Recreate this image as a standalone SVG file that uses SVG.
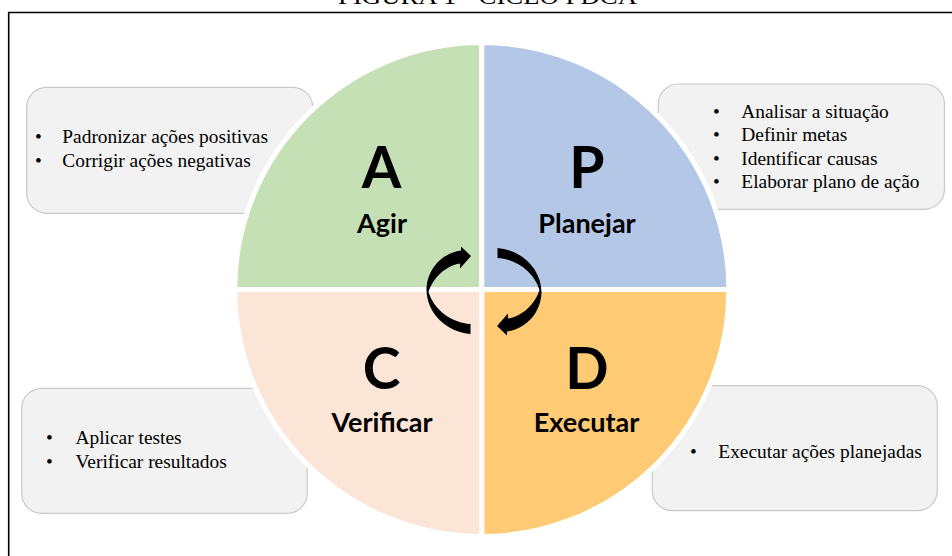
<svg xmlns="http://www.w3.org/2000/svg" width="952" height="556" viewBox="0 0 952 556">
<defs>
<style>
.box{fill:#F2F2F2;stroke:#C9C9C9;stroke-width:1.2}
.bt{font-family:"Liberation Serif","Times New Roman",serif;font-size:19.4px;fill:#000}
.q{stroke:#FFFFFF;stroke-width:5;stroke-linejoin:miter}
.big{font-family:Lato,"Open Sans",sans-serif;font-weight:bold;font-size:57px;fill:#000;text-anchor:middle}
.lbl{font-family:Lato,"Open Sans",sans-serif;font-weight:bold;font-size:27px;fill:#000;text-anchor:middle}
.arr{fill:#000}
</style>
<path id="carrow" d="M471,256 L461,246.5 L461,250.5 C443,253 427,268 426.5,290 C427,314 447,332 470.5,334 L470.5,324 C452,323 434,310 428.5,292 C433,278 445,266 460,263.5 L460,268.5 Z"/>
</defs>
<rect width="952" height="556" fill="#FFFFFF"/>
<text x="338" y="4" textLength="299" lengthAdjust="spacingAndGlyphs" style="font-family:'Liberation Serif','Times New Roman',serif;font-size:24px;fill:#000">FIGURA 1 - CICLO PDCA</text>
<path d="M8.7,556 V12.5 H952" fill="none" stroke="#000" stroke-width="1.6"/>

<g id="box-agir">
<rect class="box" x="26.7" y="87.3" width="286" height="126" rx="20"/>
<text class="bt" x="35" y="143">•</text>
<text class="bt" x="62.3" y="143">Padronizar ações positivas</text>
<text class="bt" x="35" y="167">•</text>
<text class="bt" x="62.3" y="167">Corrigir ações negativas</text>
</g>
<g id="box-planejar">
<rect class="box" x="658.3" y="84" width="286.2" height="125.3" rx="20"/>
<text class="bt" x="713" y="117.5">•</text>
<text class="bt" x="741.3" y="117.5">Analisar a situação</text>
<text class="bt" x="713" y="141">•</text>
<text class="bt" x="741.3" y="141">Definir metas</text>
<text class="bt" x="713" y="164.5">•</text>
<text class="bt" x="741.3" y="164.5">Identificar causas</text>
<text class="bt" x="713" y="188">•</text>
<text class="bt" x="741.3" y="188">Elaborar plano de ação</text>
</g>
<g id="box-verificar">
<rect class="box" x="21.7" y="388.3" width="285.5" height="125" rx="20"/>
<text class="bt" x="46" y="444">•</text>
<text class="bt" x="75.5" y="444">Aplicar testes</text>
<text class="bt" x="46" y="467.5">•</text>
<text class="bt" x="75.5" y="467.5">Verificar resultados</text>
</g>
<g id="box-executar">
<rect class="box" x="652.3" y="385.7" width="285" height="125" rx="20"/>
<text class="bt" x="690" y="457.5">•</text>
<text class="bt" x="718.3" y="457.5">Executar ações planejadas</text>
</g>

<g id="node-A">
<path class="q" fill="#C5E0B4" d="M481.8,289.5 L234.8,289.5 A247,247 0 0 1 481.8,42.5 Z"/>
<text class="big" x="381.5" y="187.5">A</text>
<text class="lbl" x="382" y="233">Agir</text>
</g>
<g id="node-P">
<path class="q" fill="#B4C7E7" d="M481.8,289.5 L481.8,42.5 A247,247 0 0 1 728.8,289.5 Z"/>
<text class="big" x="587" y="187.5">P</text>
<text class="lbl" x="587" y="233">Planejar</text>
</g>
<g id="node-D">
<path class="q" fill="#FECA73" d="M481.8,289.5 L728.8,289.5 A247,247 0 0 1 481.8,536.5 Z"/>
<text class="big" x="587" y="389">D</text>
<text class="lbl" x="586.5" y="432">Executar</text>
</g>
<g id="node-C">
<path class="q" fill="#FBE5D6" d="M481.8,289.5 L481.8,536.5 A247,247 0 0 1 234.8,289.5 Z"/>
<text class="big" x="381.5" y="389">C</text>
<text class="lbl" x="382" y="432">Verificar</text>
</g>

<g id="connectors">
<use href="#carrow" class="arr"/>
<use href="#carrow" class="arr" transform="rotate(180 484 291)"/>
</g>
</svg>
